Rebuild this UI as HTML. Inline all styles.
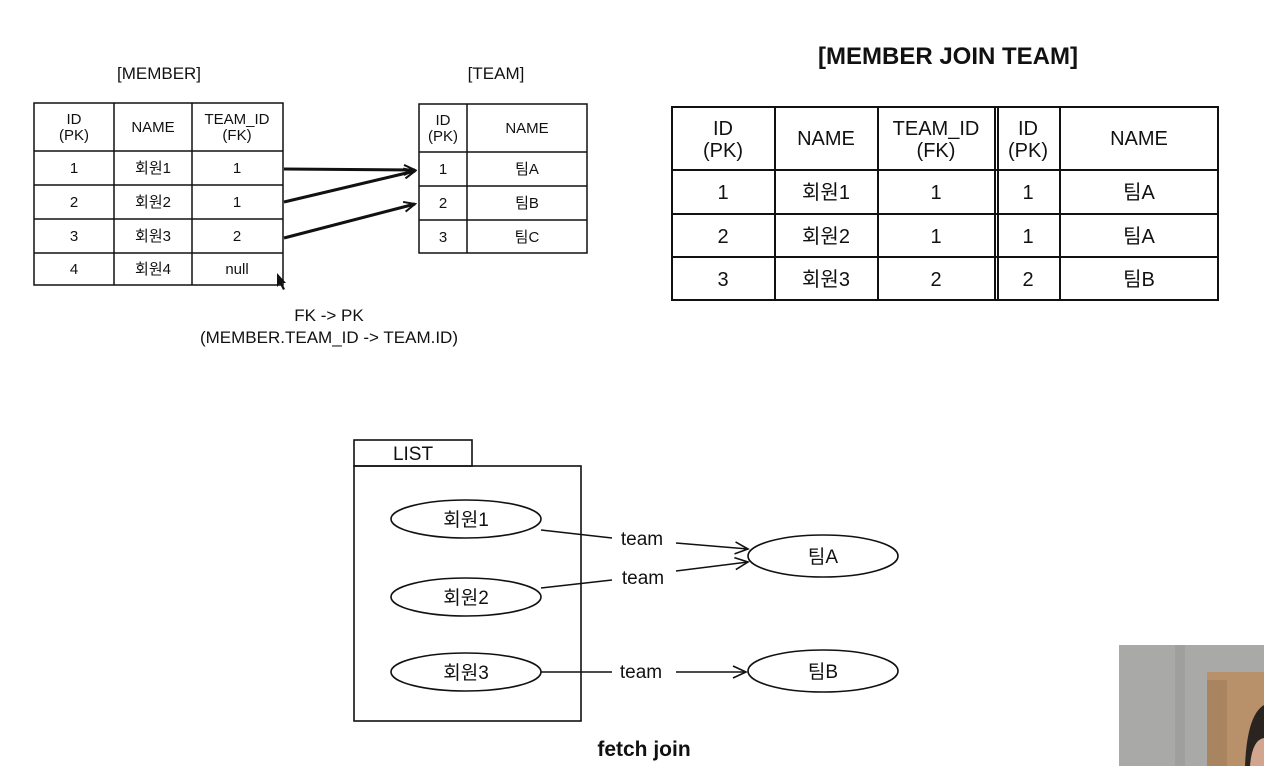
<!DOCTYPE html>
<html><head><meta charset="utf-8"><style>
html,body{margin:0;padding:0;background:#fff;width:1264px;height:766px;overflow:hidden}
text{font-family:"Liberation Sans","Noto Sans CJK KR",sans-serif;fill:#111}
</style></head><body>
<svg width="1264" height="766" viewBox="0 0 1264 766" xmlns="http://www.w3.org/2000/svg">
<defs>
<marker id="a" markerWidth="14" markerHeight="12" refX="12" refY="6" orient="auto" markerUnits="userSpaceOnUse">
<path d="M1,1 L12,6 L1,11" fill="none" stroke="#111" stroke-width="2"/></marker>
<marker id="b" markerWidth="16" markerHeight="14" refX="14" refY="7" orient="auto" markerUnits="userSpaceOnUse">
<path d="M1,1 L14,7 L1,13" fill="none" stroke="#111" stroke-width="1.6"/></marker>
</defs>
<g font-size="17" text-anchor="middle">
<text x="159" y="79">[MEMBER]</text>
<text x="496" y="79">[TEAM]</text>
</g>
<text x="948" y="64" font-size="24" font-weight="bold" text-anchor="middle">[MEMBER JOIN TEAM]</text>

<!-- MEMBER table -->
<g stroke="#111" stroke-width="1.5" fill="none">
<rect x="34" y="103" width="249" height="182"/>
<path d="M114 103V285M192 103V285M34 151H283M34 185H283M34 219H283M34 253H283"/>
<rect x="419" y="104" width="168" height="149"/>
<path d="M467 104V253M419 152H587M419 186H587M419 220H587"/>
<rect x="672" y="107" width="546" height="193" stroke-width="2"/>
<path stroke-width="2" d="M775 107V300M878 107V300M995 107V300M998 107V300M1060 107V300M672 170H1218M672 214H1218M672 257H1218"/>
</g>
<g font-size="15" text-anchor="middle">
<text x="74" y="124">ID</text><text x="74" y="140">(PK)</text>
<text x="153" y="132">NAME</text>
<text x="237" y="124">TEAM_ID</text><text x="237" y="140">(FK)</text>
<text x="74" y="173">1</text><text x="153" y="173">회원1</text><text x="237" y="173">1</text>
<text x="74" y="207">2</text><text x="153" y="207">회원2</text><text x="237" y="207">1</text>
<text x="74" y="241">3</text><text x="153" y="241">회원3</text><text x="237" y="241">2</text>
<text x="74" y="274">4</text><text x="153" y="274">회원4</text><text x="237" y="274">null</text>
<text x="443" y="125">ID</text><text x="443" y="141">(PK)</text>
<text x="527" y="133">NAME</text>
<text x="443" y="174">1</text><text x="527" y="174">팀A</text>
<text x="443" y="208">2</text><text x="527" y="208">팀B</text>
<text x="443" y="242">3</text><text x="527" y="242">팀C</text>
</g>
<g font-size="20" text-anchor="middle">
<text x="723" y="135">ID</text><text x="723" y="157">(PK)</text>
<text x="826" y="145">NAME</text>
<text x="936" y="135">TEAM_ID</text><text x="936" y="157">(FK)</text>
<text x="1028" y="135">ID</text><text x="1028" y="157">(PK)</text>
<text x="1139" y="145">NAME</text>
<text x="723" y="199">1</text><text x="826" y="199">회원1</text><text x="936" y="199">1</text><text x="1028" y="199">1</text><text x="1139" y="199">팀A</text>
<text x="723" y="243">2</text><text x="826" y="243">회원2</text><text x="936" y="243">1</text><text x="1028" y="243">1</text><text x="1139" y="243">팀A</text>
<text x="723" y="286">3</text><text x="826" y="286">회원3</text><text x="936" y="286">2</text><text x="1028" y="286">2</text><text x="1139" y="286">팀B</text>
</g>
<g stroke="#111" stroke-width="3" fill="none">
<line x1="284" y1="169" x2="415" y2="170" marker-end="url(#a)"/>
<line x1="284" y1="202" x2="415" y2="171" marker-end="url(#a)"/>
<line x1="284" y1="238" x2="415" y2="204" marker-end="url(#a)"/>
</g>
<path d="M277 273 L277 287 L280 284 L283 290 L285 289 L282 283 L286 283 Z" fill="#111"/>
<g font-size="17" text-anchor="middle">
<text x="329" y="321">FK -&gt; PK</text>
<text x="329" y="343">(MEMBER.TEAM_ID -&gt; TEAM.ID)</text>
</g>

<!-- LIST -->
<g stroke="#111" stroke-width="1.6" fill="none">
<rect x="354" y="440" width="118" height="26"/>
<rect x="354" y="466" width="227" height="255"/>
<ellipse cx="466" cy="519" rx="75" ry="19"/>
<ellipse cx="466" cy="597" rx="75" ry="19"/>
<ellipse cx="466" cy="672" rx="75" ry="19"/>
<ellipse cx="823" cy="556" rx="75" ry="21"/>
<ellipse cx="823" cy="671" rx="75" ry="21"/>
<line x1="541" y1="530" x2="612" y2="538"/>
<line x1="676" y1="543" x2="748" y2="549" marker-end="url(#b)"/>
<line x1="541" y1="588" x2="612" y2="580"/>
<line x1="676" y1="571" x2="748" y2="562" marker-end="url(#b)"/>
<line x1="541" y1="672" x2="612" y2="672"/>
<line x1="676" y1="672" x2="746" y2="672" marker-end="url(#b)"/>
</g>
<g font-size="19" text-anchor="middle">
<text x="413" y="460">LIST</text>
<text x="466" y="526">회원1</text>
<text x="466" y="604">회원2</text>
<text x="466" y="679">회원3</text>
<text x="823" y="563">팀A</text>
<text x="823" y="678">팀B</text>
<text x="642" y="545">team</text>
<text x="643" y="584">team</text>
<text x="641" y="678">team</text>
</g>
<text x="644" y="756" font-size="21" font-weight="bold" text-anchor="middle">fetch join</text>

<!-- webcam -->
<rect x="1119" y="645" width="145" height="121" fill="#a9aaa8"/>
<rect x="1175" y="645" width="10" height="121" fill="#9fa09e"/>
<rect x="1207" y="672" width="57" height="94" fill="#b8916a"/>
<rect x="1207" y="680" width="20" height="86" fill="#a98461"/>
<path d="M1245 766 Q1247 715 1264 705 L1264 766 Z" fill="#2a2420"/>
<path d="M1250 766 Q1252 740 1264 738 L1264 766 Z" fill="#d1a58e"/>
</svg>
</body></html>
